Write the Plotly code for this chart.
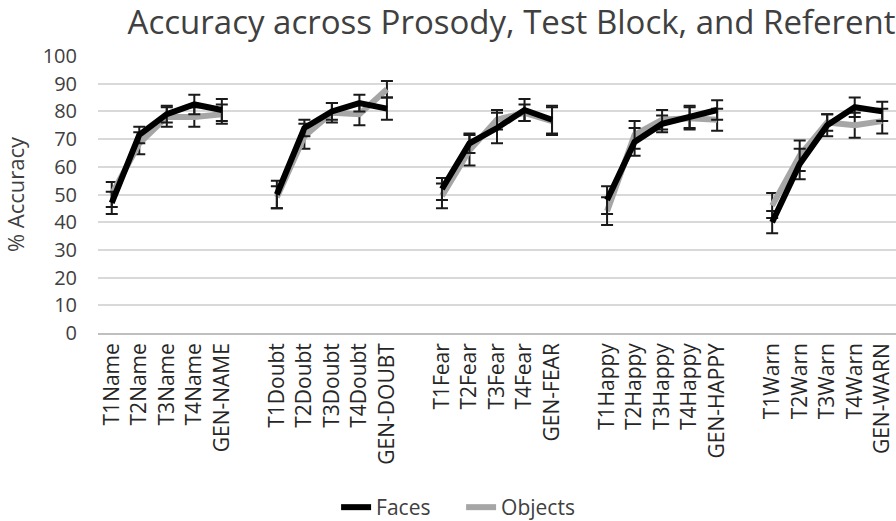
import plotly.graph_objects as go

groups = ["Name", "Doubt", "Fear", "Happy", "Warn"]
tick_labels = [
    "T1Name", "T2Name", "T3Name", "T4Name", "GEN-NAME",
    "T1Doubt", "T2Doubt", "T3Doubt", "T4Doubt", "GEN-DOUBT",
    "T1Fear", "T2Fear", "T3Fear", "T4Fear", "GEN-FEAR",
    "T1Happy", "T2Happy", "T3Happy", "T4Happy", "GEN-HAPPY",
    "T1Warn", "T2Warn", "T3Warn", "T4Warn", "GEN-WARN",
]
faces = [
    47, 71.5, 79, 82.5, 80.5,
    50, 74, 80, 83, 81,
    52, 68.5, 74, 80.5, 77,
    48, 69, 75.5, 78, 80.5,
    40, 61, 75, 81.5, 80,
]
faces_err = [
    4, 3, 3, 3.5, 4,
    5, 3, 3, 3, 4,
    4, 3.5, 5.5, 4, 5,
    5, 5, 3, 4, 3.5,
    4, 5.5, 4, 3.5, 3.5,
]
objects = [
    50, 68.5, 78, 78, 79,
    49, 71, 79.5, 79, 88,
    49.5, 66, 77, 79.5, 76.5,
    44, 71.5, 77, 77.5, 77,
    46, 64, 76, 75, 76.5,
]
objects_err = [
    4.5, 4, 3.5, 3.5, 3.5,
    4, 4.5, 3.5, 4, 3,
    4.5, 5.5, 3.5, 3, 5,
    5, 5, 3.5, 4, 4,
    4.5, 5.5, 3, 4.5, 4.5,
]

# positions: 5 per group, one empty slot between groups
per_group = 5
xs, yf, ef, yo, eo, tv = [], [], [], [], [], []
pos = 0
for g in range(len(groups)):
    for k in range(per_group):
        i = g * per_group + k
        xs.append(pos); tv.append(pos)
        yf.append(faces[i]); ef.append(faces_err[i])
        yo.append(objects[i]); eo.append(objects_err[i])
        pos += 1
    if g < len(groups) - 1:
        xs.append(pos); yf.append(None); ef.append(None); yo.append(None); eo.append(None)
        pos += 1
n_slots = pos

fig = go.Figure()
fig.add_trace(go.Scatter(
    x=xs, y=yo, name="Objects", mode="lines", connectgaps=False,
    line=dict(color="#a6a6a6", width=6),
    error_y=dict(type="data", array=eo, visible=True, color="#1a1a1a", thickness=2, width=6),
    legendrank=2,
))
fig.add_trace(go.Scatter(
    x=xs, y=yf, name="Faces", mode="lines", connectgaps=False,
    line=dict(color="#000000", width=6),
    error_y=dict(type="data", array=ef, visible=True, color="#1a1a1a", thickness=2, width=6),
    legendrank=1,
))

font_family = "Open Sans, Liberation Sans, sans-serif"
fig.update_layout(
    width=896, height=521,
    margin=dict(l=98, r=0, t=56, b=188, autoexpand=False),
    paper_bgcolor="white", plot_bgcolor="white",
    font=dict(family=font_family, color="#404040"),
    title=dict(text="Accuracy across Prosody, Test Block, and Referent",
               x=0.571, xanchor="center", y=0.957, yanchor="middle",
               font=dict(size=33, color="#404040", family=font_family)),
    xaxis=dict(range=[-0.5, n_slots - 0.5], tickmode="array", tickvals=tv,
               ticktext=tick_labels, tickangle=-90, showgrid=False, zeroline=False,
               showline=True, linecolor="#bfbfbf", linewidth=1.5, ticks="",
               tickfont=dict(size=21, color="#262626")),
    yaxis=dict(range=[0, 100], dtick=10, showgrid=True, gridcolor="#d9d9d9", gridwidth=1.5,
               zeroline=False, showline=False, ticks="", ticklabelstandoff=20,
               tickfont=dict(size=20, color="#404040"),
               title=dict(text="% Accuracy", font=dict(size=22, color="#404040"), standoff=12)),
    legend=dict(orientation="h", x=0.455, xanchor="center", y=-0.63, yanchor="middle",
                font=dict(size=21, color="#404040"), traceorder="normal", entrywidth=80),
    showlegend=True,
)
fig.write_html("out.html", config={"displayModeBar": False},
               post_script="document.body.style.margin='0px';document.body.style.overflow='hidden';")
